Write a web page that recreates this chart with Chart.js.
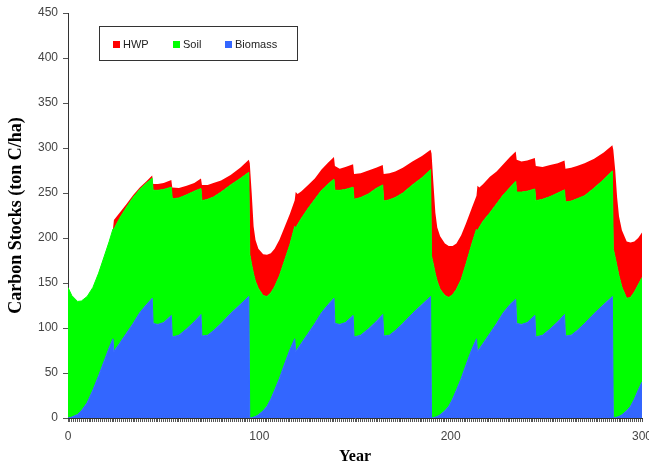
<!DOCTYPE html>
<html>
<head>
<meta charset="utf-8">
<script src="https://cdn.jsdelivr.net/npm/chart.js@4.4.1/dist/chart.umd.min.js"></script>
<style>
  body { margin: 0; background: #fff; }
  canvas { display: block; }
</style>
</head>
<body>
<canvas id="carbonChart" width="649" height="466"></canvas>
<script>
// Años clave de la simulación (tres rotaciones de 95 años + inicio de la cuarta)
const years = [
  0, 2, 5, 7, 10, 13, 16, 19, 21.5, 23.5, 24, 27, 30.5, 34, 37.5, 41, 44, 44.5, 47, 50, 54, 54.5, 58, 62, 66, 69.5, 70, 73, 76, 80, 85, 90, 94.5,
  95, 96, 97, 98, 99.5, 102, 104, 106, 108, 110.5, 113, 116, 118.5, 119, 120, 122, 125.5, 129, 132.5, 136, 139, 139.5, 142, 145, 149, 149.5, 153, 157, 161, 164.5, 165, 168, 171, 175, 180, 185, 189.5,
  190, 191, 192, 193, 194.5, 197, 199, 201, 203, 205.5, 208, 211, 213.5, 214, 215, 217, 220.5, 224, 227.5, 231, 234, 234.5, 237, 240, 244, 244.5, 248, 252, 256, 259.5, 260, 263, 266, 270, 275, 280, 284.5,
  285, 286, 287, 288, 289.5, 292, 294, 296, 298, 300
];

// Carbono en biomasa (ton C/ha)
const biomass = [
  0, 1, 4, 8, 17, 31, 47, 64, 78, 88, 74, 83, 94, 105, 117, 126, 133, 105, 104, 106, 114, 90, 92, 99, 107, 115, 91, 92, 97, 105, 116, 126, 135,
  0, 0.3, 1, 1.8, 3.5, 8, 13, 21, 31, 44, 59, 76, 88, 74, 77, 83, 94, 105, 117, 126, 133, 105, 104, 106, 114, 90, 92, 99, 107, 115, 91, 92, 97, 105, 116, 126, 135,
  0, 0.3, 1, 1.8, 3.5, 8, 13, 21, 31, 44, 59, 76, 88, 74, 77, 83, 94, 105, 117, 126, 132, 105, 104, 106, 114, 90, 92, 99, 107, 115, 91, 92, 97, 105, 116, 126, 135,
  0, 0.3, 1, 1.8, 3.5, 8, 13, 21, 31, 40
];

// Carbono en el suelo (ton C/ha)
const soil = [
  145, 135, 125.5, 122, 118, 114, 114, 116, 118, 122, 136, 139, 140, 140, 137, 135, 133.5, 148, 149, 148, 142.5, 153.5, 152.5, 149, 145, 140, 150.5, 151, 148.5, 146, 143, 140, 138,
  182, 170, 159, 150, 140.5, 128, 122, 118, 115, 114, 115, 117, 125, 137, 138, 139, 139, 138, 136, 134, 132.5, 148, 149, 148, 142.5, 153, 153, 150, 148, 144, 150, 150.5, 148, 145, 143, 141, 141,
  180, 170, 159, 150, 139.5, 128, 121, 116, 112, 110, 112, 117, 122, 134, 135, 136, 134, 133, 131, 130, 131, 146, 147, 146, 140.5, 151.5, 151, 147, 143, 138.5, 149, 149, 146.5, 142, 139.5, 139, 139.5,
  188, 178, 167, 156, 142, 125, 121, 119, 117, 116
];

// Carbono en productos de madera (HWP, ton C/ha)
const hwp = [
  0, 0, 0, 0, 0, 0, 0, 0, 0, 0, 10, 6, 3.5, 2.5, 2, 2, 3, 7, 7, 7, 8, 12.5, 11, 10, 9, 11, 17.5, 16, 15.5, 13, 11, 12, 14,
  101, 80, 53, 46, 44, 46, 46.5, 44, 42, 40, 37, 34, 29, 40, 34, 30, 26, 23, 23, 24, 24.5, 27, 24, 25, 25.5, 28, 27, 26, 23, 22, 30, 29.5, 29, 28, 26, 24, 22,
  114, 90, 68, 60, 59, 58, 57, 54, 51, 49, 45, 40, 37, 50, 44, 41, 40, 36, 34, 34, 33, 36, 34, 34, 34.5, 38.5, 36, 35, 33, 32.5, 37, 37, 36.5, 36, 32.5, 30, 28.5,
  110, 97, 77, 66, 63, 63, 61, 56, 52, 50
];

const xTickLabels = [0, 100, 200, 300];
const yMax = 450;
const yStep = 50;

// Convertir una serie a puntos {x, y}
function toPoints(values) {
  return years.map((x, i) => ({ x: x, y: values[i] }));
}

// Leyenda dibujada dentro del área del gráfico (orden: HWP, Soil, Biomass)
const insideLegend = {
  id: 'insideLegend',
  afterDraw(chart) {
    const ctx = chart.ctx;
    ctx.save();
    ctx.strokeStyle = '#333';
    ctx.lineWidth = 1;
    ctx.strokeRect(99.5, 26.5, 198, 34);
    ctx.font = '11px "Liberation Sans", Arial, sans-serif';
    ctx.textBaseline = 'middle';
    const itemX = [113, 173, 225];
    const order = [2, 1, 0];
    order.forEach((d, k) => {
      const ds = chart.data.datasets[d];
      ctx.fillStyle = ds.backgroundColor;
      ctx.fillRect(itemX[k], 41, 7, 7);
      ctx.fillStyle = '#222';
      ctx.fillText(ds.label, itemX[k] + 10, 45);
    });
    ctx.restore();
  }
};

const carbonData = {
  datasets: [
    {
      label: 'Biomass',
      data: toPoints(biomass),
      backgroundColor: '#3366FF',
      borderColor: '#3366FF',
      borderWidth: 1,
      pointRadius: 0,
      fill: 'origin'
    },
    {
      label: 'Soil',
      data: toPoints(soil),
      backgroundColor: '#00FF00',
      borderColor: '#00FF00',
      borderWidth: 1,
      pointRadius: 0,
      fill: '-1'
    },
    {
      label: 'HWP',
      data: toPoints(hwp),
      backgroundColor: '#FF0000',
      borderColor: '#FF0000',
      borderWidth: 0,
      pointRadius: 0,
      fill: '-1'
    }
  ]
};

const carbonConfig = {
  type: 'line',
  data: carbonData,
  options: {
    responsive: false,
    animation: false,
    devicePixelRatio: 1,
    layout: { padding: { left: 0, right: 7, top: 13, bottom: 0 } },
    plugins: {
      legend: { display: false },
      tooltip: { enabled: false }
    },
    scales: {
      x: {
        type: 'linear',
        min: 0,
        max: 300,
        z: 1,
        grid: { drawOnChartArea: false, tickLength: 4, color: '#555' },
        border: { color: '#333' },
        ticks: {
          stepSize: 1,
          autoSkip: false,
          maxRotation: 0,
          padding: 7,
          color: '#444',
          font: { size: 12 },
          callback: v => xTickLabels.includes(v) ? String(v) : ''
        },
        title: {
          display: true,
          text: 'Year',
          color: '#000',
          padding: 0,
          font: { family: '"Liberation Serif", "Times New Roman", serif', size: 16, weight: 'bold' }
        },
        afterFit: s => { s.height = 48; s.paddingLeft = 0; s.paddingRight = 0; }
      },
      y: {
        stacked: true,
        min: 0,
        max: yMax,
        z: 1,
        grid: { drawOnChartArea: false, tickLength: 5, color: '#555' },
        border: { color: '#333' },
        ticks: { stepSize: yStep, padding: 5, color: '#444', font: { size: 12 } },
        title: {
          display: true,
          text: 'Carbon Stocks (ton C/ha)',
          color: '#000',
          padding: { top: 6, bottom: 0 },
          font: { family: '"Liberation Serif", "Times New Roman", serif', size: 18, weight: 'bold' }
        },
        afterFit: s => { s.width = 68; s.paddingTop = 0; s.paddingBottom = 0; }
      }
    }
  },
  plugins: [insideLegend]
};

Chart.defaults.font.family = '"Liberation Sans", Arial, sans-serif';

// Crear el gráfico de áreas apiladas
const carbonChart = new Chart(document.getElementById('carbonChart'), carbonConfig);
</script>
</body>
</html>
